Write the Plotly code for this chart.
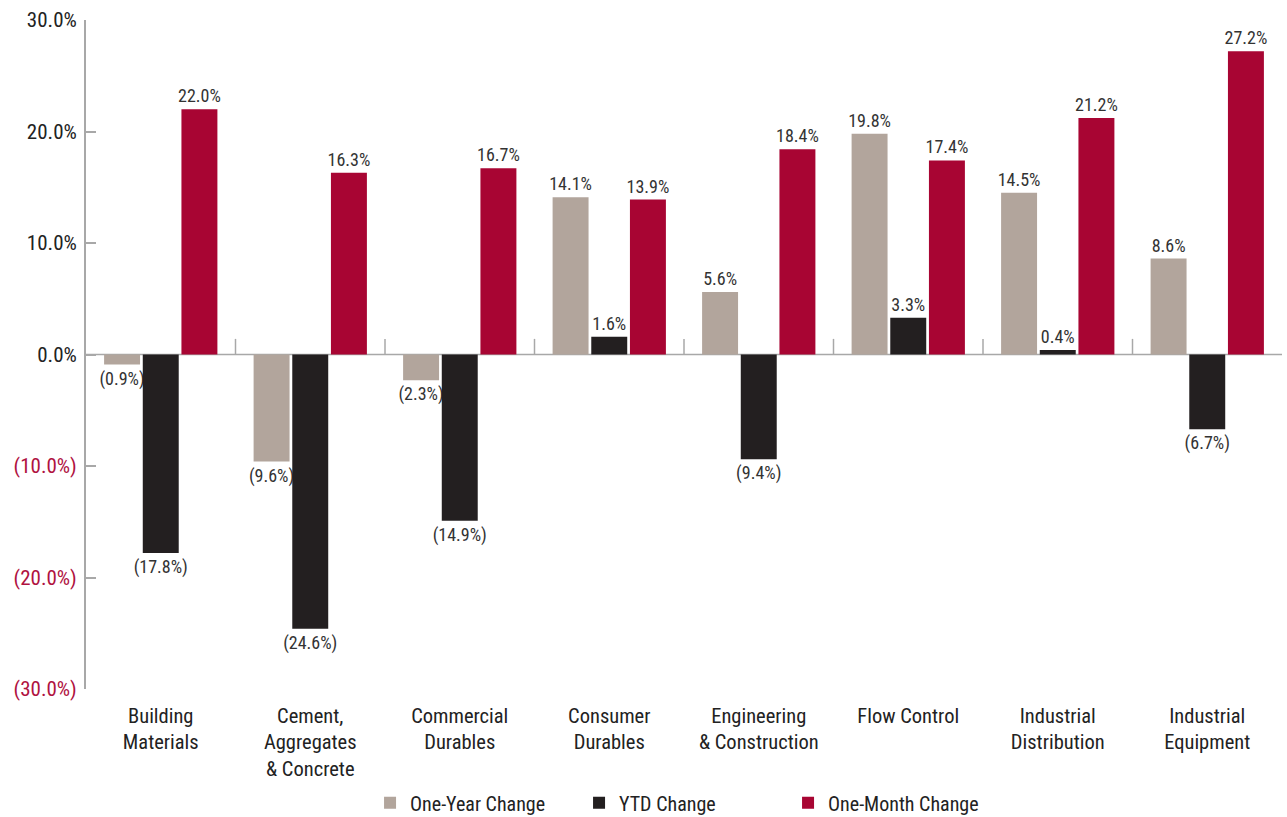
import plotly.graph_objects as go

categories = ["Building<br>Materials", "Cement,<br>Aggregates<br>& Concrete", "Commercial<br>Durables",
              "Consumer<br>Durables", "Engineering<br>& Construction", "Flow Control",
              "Industrial<br>Distribution", "Industrial<br>Equipment"]
one_year = [-0.9, -9.6, -2.3, 14.1, 5.6, 19.8, 14.5, 8.6]
ytd = [-17.8, -24.6, -14.9, 1.6, -9.4, 3.3, 0.4, -6.7]
one_month = [22.0, 16.3, 16.7, 13.9, 18.4, 17.4, 21.2, 27.2]
series_names = ["One-Year Change", "YTD Change", "One-Month Change"]
colors = ["#B2A59C", "#231F20", "#A80533"]
tick_vals = [30, 20, 10, 0, -10, -20, -30]

FONT = "Roboto Condensed, Liberation Sans Narrow, sans-serif"


def fmt(v):
    return f"({abs(v):.1f}%)" if v < 0 else f"{v:.1f}%"


x_idx = list(range(len(categories)))
fig = go.Figure()
for name, vals, col in zip(series_names, [one_year, ytd, one_month], colors):
    fig.add_trace(go.Bar(
        x=x_idx, y=vals, name=name, marker=dict(color=col, line=dict(width=0)),
        text=[fmt(v) for v in vals], textposition="outside", cliponaxis=False,
        constraintext="none", textangle=0,
        textfont=dict(family=FONT, size=18, color="#333333"),
    ))

tick_text = []
for v in tick_vals:
    if v < 0:
        tick_text.append(f'<span style="color:#B0123F">({abs(v):.1f}%)</span>')
    else:
        tick_text.append(f"{v:.1f}%")

# small upward ticks on the zero line at category boundaries
shapes = [dict(type="line", xref="x", yref="y", x0=-0.5, x1=len(categories) - 0.5, y0=0, y1=0,
               line=dict(color="#A8A8A8", width=1.5), layer="below")]
for i in range(1, len(categories)):
    shapes.append(dict(type="line", xref="x", yref="y", x0=i - 0.5, x1=i - 0.5, y0=0, y1=1.4,
                       line=dict(color="#A8A8A8", width=1.5), layer="below"))

fig.update_layout(
    width=1287, height=817,
    margin=dict(l=86, r=5, t=20, b=128, autoexpand=False),
    paper_bgcolor="white", plot_bgcolor="white",
    barmode="group", bargap=0.224, bargroupgap=0.07,
    font=dict(family=FONT, color="#222222"),
    showlegend=True,
    legend=dict(orientation="h", x=0.2375, xanchor="left", y=-0.141, yanchor="top",
                font=dict(family=FONT, size=20, color="#222222"),
                entrywidth=164, itemsizing="constant"),
    xaxis=dict(tickmode="array", tickvals=x_idx, ticktext=categories, automargin=False,
               range=[-0.5, len(categories) - 0.5], showline=False, showgrid=False,
               zeroline=False, ticks="", ticklabelstandoff=12,
               tickfont=dict(family=FONT, size=20.5, color="#222222")),
    yaxis=dict(range=[-30, 30], tickmode="array", tickvals=tick_vals, ticktext=tick_text,
               automargin=False, ticklabelstandoff=3,
               showgrid=False, zeroline=False, showline=True, linecolor="#A8A8A8", linewidth=2,
               ticks="inside", ticklen=10, tickcolor="#A8A8A8", tickwidth=1.5,
               tickfont=dict(family=FONT, size=21, color="#222222")),
    shapes=shapes,
)

fig.write_html("out.html", config={"displayModeBar": False},
               post_script="document.body.style.margin='0px';document.body.style.overflow='hidden';")
